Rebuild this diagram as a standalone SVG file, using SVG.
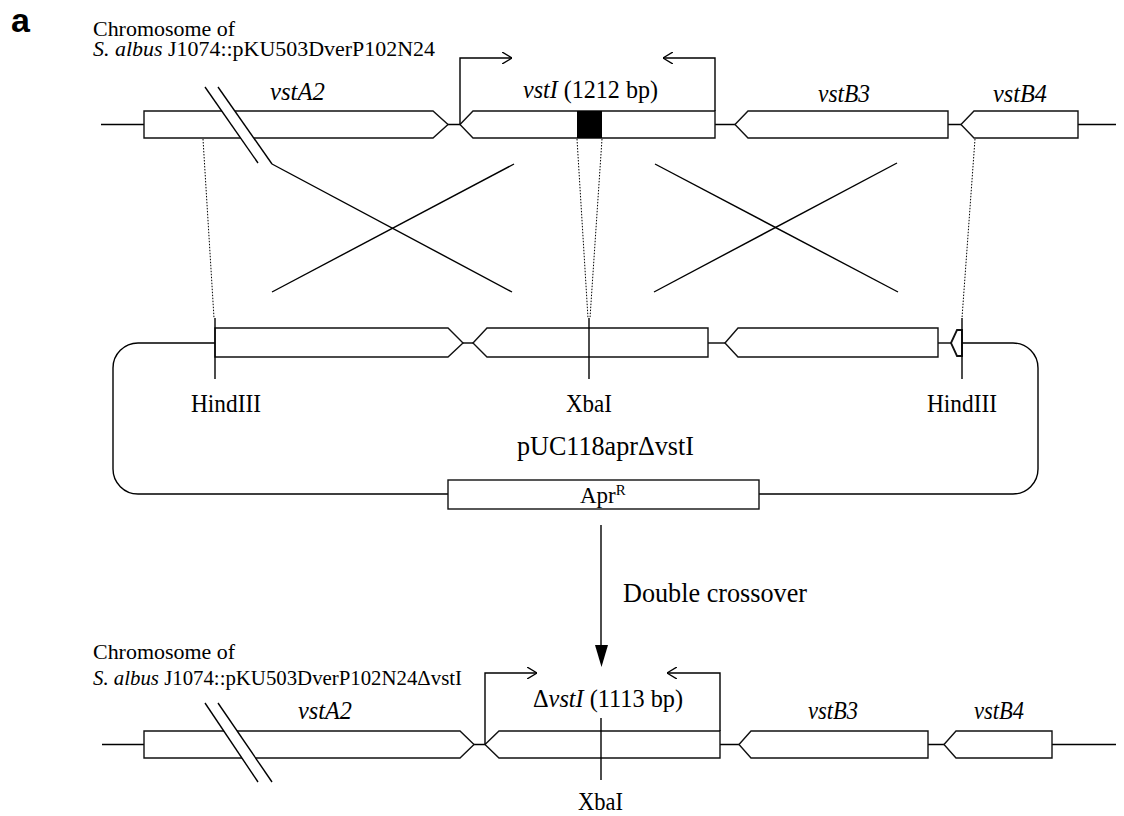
<svg xmlns="http://www.w3.org/2000/svg" width="1124" height="816" viewBox="0 0 1124 816">
<style>
.t{font-family:"Liberation Serif","Times New Roman",serif;fill:#000}
.i{font-style:italic}
.g{fill:#fff;stroke:#111;stroke-width:1.4}
.ln{fill:none;stroke:#000;stroke-width:1.4}
.dot{fill:none;stroke:#000;stroke-width:1;stroke-dasharray:1.5 1.5}
</style>
<defs>
<marker id="open" viewBox="0 0 10 12" refX="10" refY="6" markerWidth="10" markerHeight="12" markerUnits="userSpaceOnUse" orient="auto">
<path d="M0,0 L10,6 L0,12" fill="none" stroke="#000" stroke-width="1.4"/>
</marker>
</defs>
<rect width="1124" height="816" fill="#fff"/>
<text x="11" y="32" style="font-family:'Liberation Sans',Arial,sans-serif;font-weight:bold;font-size:34px">a</text>

<!-- top chromosome -->
<g id="chrom-top">
<text class="t" x="93" y="36" font-size="21" textLength="142" lengthAdjust="spacingAndGlyphs">Chromosome of</text>
<text class="t" x="93" y="56" font-size="21" textLength="342" lengthAdjust="spacingAndGlyphs"><tspan class="i">S. albus</tspan> J1074::pKU503DverP102N24</text>
<line class="ln" x1="101" y1="124.5" x2="1116" y2="124.5"/>
</g>
<g id="top-vstA2">
<polygon class="g" points="144,111 433,111 448,124.5 433,138 144,138"/>
<text class="t i" x="270" y="100" font-size="25" textLength="55" lengthAdjust="spacingAndGlyphs">vstA2</text>
<polygon points="205,87 218,87 272,164 258,163" fill="#fff"/>
<line class="ln" x1="205" y1="87" x2="258" y2="163"/>
<line class="ln" x1="218" y1="87" x2="272" y2="164"/>
</g>
<g id="top-vstI">
<polygon class="g" points="460,124.5 473,111 715,111 715,138 473,138"/>
<rect x="577" y="111" width="25" height="27" fill="#000"/>
<text class="t" x="523" y="98" font-size="25" textLength="135" lengthAdjust="spacingAndGlyphs"><tspan class="i">vstI</tspan> (1212 bp)</text>
<polyline class="ln" points="460,124.5 460,58 512,58" marker-end="url(#open)"/>
<polyline class="ln" points="715,111 715,58 663,58" marker-end="url(#open)"/>
</g>
<g id="top-vstB3">
<polygon class="g" points="735,124.5 748,111 948,111 948,138 748,138"/>
<text class="t i" x="818" y="102" font-size="25" textLength="52" lengthAdjust="spacingAndGlyphs">vstB3</text>
</g>
<g id="top-vstB4">
<polygon class="g" points="961,124.5 974,111 1078,111 1078,138 974,138"/>
<text class="t i" x="993" y="102" font-size="25" textLength="54" lengthAdjust="spacingAndGlyphs">vstB4</text>
</g>

<!-- connectors: crossover lines and dotted guides -->
<g id="connectors">
<line class="ln" x1="272" y1="164" x2="512" y2="292"/>
<line class="ln" x1="272" y1="292" x2="514" y2="164"/>
<line class="ln" x1="655" y1="164" x2="898" y2="292"/>
<line class="ln" x1="654" y1="292" x2="897" y2="163"/>
<line class="dot" x1="203" y1="139" x2="214" y2="318"/>
<line class="dot" x1="577" y1="139" x2="588" y2="318"/>
<line class="dot" x1="602" y1="139" x2="590" y2="318"/>
<line class="dot" x1="975" y1="139" x2="962" y2="318"/>
<line class="ln" x1="601" y1="525" x2="601" y2="648"/>
<polygon points="595,645 608,645 601.5,667" fill="#000"/>
<text class="t" x="623" y="602" font-size="28" textLength="184" lengthAdjust="spacingAndGlyphs">Double crossover</text>
</g>

<!-- plasmid -->
<g id="plasmid">
<path class="ln" d="M215,343 H138 A25,25 0 0 0 113,368 V469 A25,25 0 0 0 138,494 H448"/>
<path class="ln" d="M759,494 H1013 A25,25 0 0 0 1038,469 V368 A25,25 0 0 0 1013,343 H962"/>
<line class="ln" x1="463" y1="343" x2="473" y2="343"/>
<line class="ln" x1="708" y1="343" x2="725" y2="343"/>
<line class="ln" x1="938" y1="343" x2="951" y2="343"/>
<polygon class="g" points="215,328 448,328 463,343 448,357 215,357"/>
<polygon class="g" points="473,343 487,328 708,328 708,357 487,357"/>
<polygon class="g" points="725,343 738,328 938,328 938,357 738,357"/>
<polygon class="g" points="951,343 957,330 962,330 962,356 957,356" style="stroke-width:1.8"/>
<line class="ln" x1="215" y1="318" x2="215" y2="379"/>
<line class="ln" x1="589" y1="318" x2="589" y2="379"/>
<line class="ln" x1="962" y1="318" x2="962" y2="379"/>
<text class="t" x="191" y="412" font-size="25" textLength="70" lengthAdjust="spacingAndGlyphs">HindIII</text>
<text class="t" x="566" y="412" font-size="25" textLength="46" lengthAdjust="spacingAndGlyphs">XbaI</text>
<text class="t" x="927" y="412" font-size="25" textLength="70" lengthAdjust="spacingAndGlyphs">HindIII</text>
<text class="t" x="517" y="455" font-size="28" textLength="177" lengthAdjust="spacingAndGlyphs">pUC118aprΔvstI</text>
</g>
<g id="aprR">
<rect class="g" x="448" y="480" width="311" height="29"/>
<text class="t" x="580" y="503" font-size="23">Apr<tspan font-size="15" dy="-8">R</tspan></text>
</g>

<!-- bottom chromosome -->
<g id="chrom-bottom">
<text class="t" x="93" y="659" font-size="21" textLength="142" lengthAdjust="spacingAndGlyphs">Chromosome of</text>
<text class="t" x="93" y="685" font-size="21" textLength="369" lengthAdjust="spacingAndGlyphs"><tspan class="i">S. albus</tspan> J1074::pKU503DverP102N24ΔvstI</text>
<line class="ln" x1="102" y1="744.5" x2="1116" y2="744.5"/>
</g>
<g id="bottom-vstA2">
<polygon class="g" points="144,731 460,731 474,744.5 460,758 144,758"/>
<text class="t i" x="298" y="719" font-size="25" textLength="54" lengthAdjust="spacingAndGlyphs">vstA2</text>
<polygon points="205,703 218,703 272,782 258,782" fill="#fff"/>
<line class="ln" x1="205" y1="703" x2="258" y2="782"/>
<line class="ln" x1="218" y1="703" x2="272" y2="782"/>
</g>
<g id="bottom-dvstI">
<polygon class="g" points="485,744.5 499,731 720,731 720,758 499,758"/>
<text class="t" x="533" y="707" font-size="25" textLength="150" lengthAdjust="spacingAndGlyphs">Δ<tspan class="i">vstI</tspan> (1113 bp)</text>
<polyline class="ln" points="485,744.5 485,673 537,673" marker-end="url(#open)"/>
<polyline class="ln" points="720,731 720,673 667,673" marker-end="url(#open)"/>
<line class="ln" x1="601" y1="718" x2="601" y2="780"/>
<text class="t" x="578" y="810" font-size="25" textLength="45" lengthAdjust="spacingAndGlyphs">XbaI</text>
</g>
<g id="bottom-vstB3">
<polygon class="g" points="739,744.5 751,731 928,731 928,758 751,758"/>
<text class="t i" x="808" y="719" font-size="25" textLength="50" lengthAdjust="spacingAndGlyphs">vstB3</text>
</g>
<g id="bottom-vstB4">
<polygon class="g" points="944,744.5 956,731 1052,731 1052,758 956,758"/>
<text class="t i" x="974" y="719" font-size="25" textLength="50" lengthAdjust="spacingAndGlyphs">vstB4</text>
</g>
</svg>
